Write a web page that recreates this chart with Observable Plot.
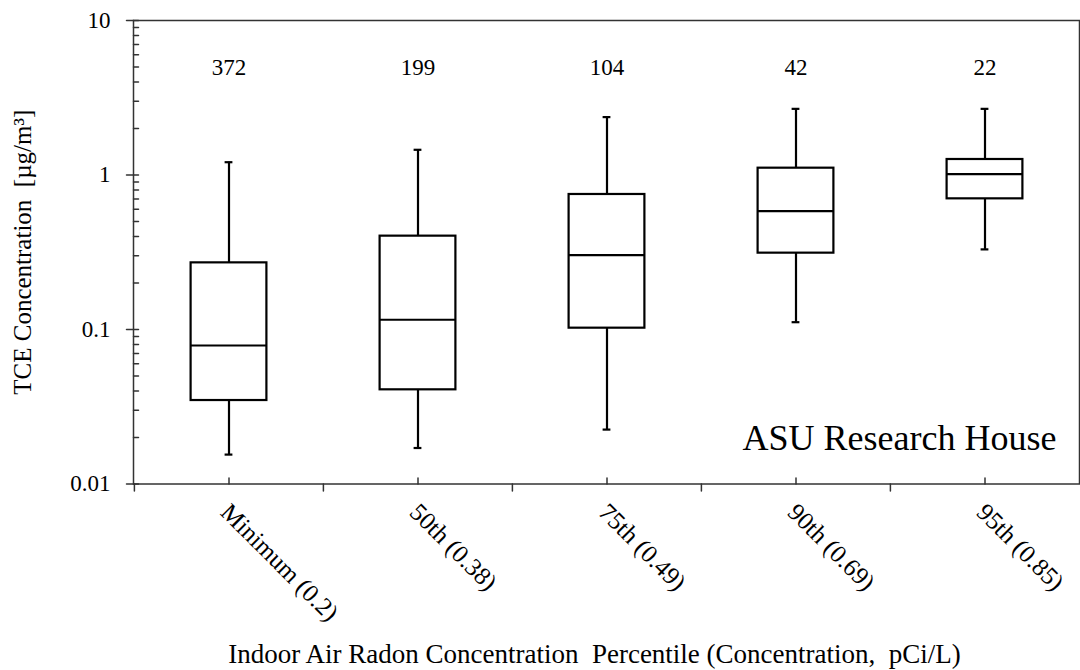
<!DOCTYPE html>
<html>
<head>
<meta charset="utf-8">
<script src="https://cdn.jsdelivr.net/npm/d3@7"></script>
<script src="https://cdn.jsdelivr.net/npm/@observablehq/plot@0.6"></script>
<style>
  html, body { margin: 0; padding: 0; background: #fff; }
  #chart svg { display: block; }
</style>
</head>
<body>
<div id="chart"></div>
<script>
const categories = ["Minimum (0.2)", "50th (0.38)", "75th (0.49)", "90th (0.69)", "95th (0.85)"];
const counts = [372, 199, 104, 42, 22];
const whiskerLow = [0.0155, 0.0171, 0.0225, 0.1115, 0.33];
const q1 = [0.0347, 0.0407, 0.102, 0.312, 0.701];
const median = [0.0788, 0.1156, 0.303, 0.583, 1.012];
const q3 = [0.270, 0.402, 0.748, 1.107, 1.26];
const whiskerHigh = [1.21, 1.456, 2.37, 2.68, 2.68];
const majorTicks = [0.01, 0.1, 1, 10];
const majorTickLabels = ["0.01", "0.1", "1", "10"];
const minorTicks = [0.02, 0.03, 0.04, 0.05, 0.06, 0.07, 0.08, 0.09,
                    0.2, 0.3, 0.4, 0.5, 0.6, 0.7, 0.8, 0.9,
                    2, 3, 4, 5, 6, 7, 8, 9];
const yLabel = "TCE Concentration  [µg/m³]";
const xLabel = "Indoor Air Radon Concentration  Percentile (Concentration,  pCi/L)";
const noteText = "ASU Research House";

const data = categories.map((c, i) => ({
  cat: c, n: counts[i], lo: whiskerLow[i], q1: q1[i], med: median[i], q3: q3[i], hi: whiskerHigh[i]
}));

const left = 133, right = 1079;
const bw = (right - left) / categories.length;
const boxW = 76, capW = 8;
const boxInset = (bw - boxW) / 2, capInset = (bw - capW) / 2;
const font = "'Liberation Serif', 'Times New Roman', serif";
const line = {draw(ctx, l) { ctx.moveTo(0, 0); ctx.lineTo(0, -l); }};

const chart = Plot.plot({
  width: 1080,
  height: 670,
  marginTop: 20,
  marginBottom: 186.5,
  marginLeft: left,
  marginRight: 1080 - right,
  style: {fontFamily: font, background: "#fff"},
  x: {domain: categories, range: [left, right], padding: 0, axis: null},
  y: {type: "log", domain: [0.01, 10], axis: null},
  marks: [
    // whiskers
    Plot.ruleX(data, {x: "cat", y1: "q3", y2: "hi", stroke: "#000", strokeWidth: 2.2}),
    Plot.ruleX(data, {x: "cat", y1: "lo", y2: "q1", stroke: "#000", strokeWidth: 2.2}),
    Plot.tickY(data, {x: "cat", y: "hi", insetLeft: capInset, insetRight: capInset, stroke: "#000", strokeWidth: 2.2}),
    Plot.tickY(data, {x: "cat", y: "lo", insetLeft: capInset, insetRight: capInset, stroke: "#000", strokeWidth: 2.2}),
    // boxes
    Plot.barY(data, {x: "cat", y1: "q1", y2: "q3", insetLeft: boxInset, insetRight: boxInset, fill: "#fff", stroke: "#000", strokeWidth: 2.2}),
    Plot.tickY(data, {x: "cat", y: "med", insetLeft: boxInset, insetRight: boxInset, stroke: "#000", strokeWidth: 2.2}),
    // frame
    Plot.frame({stroke: "#333", strokeWidth: 1.5}),
    // y ticks
    Plot.vector(majorTicks, {y: d => d, frameAnchor: "left", length: 7, rotate: -90, shape: line, anchor: "start", stroke: "#333", strokeWidth: 1.5}),
    Plot.vector(majorTicks.concat(minorTicks), {y: d => d, frameAnchor: "left", length: 5, rotate: 90, shape: line, anchor: "start", stroke: "#333", strokeWidth: 1.5}),
    Plot.text(majorTicks, {y: d => d, frameAnchor: "left", dx: -23, textAnchor: "end", lineAnchor: "middle", text: (d, i) => majorTickLabels[i], fontSize: 23, fill: "#000"}),
    // x ticks
    Plot.vector(categories, {x: d => d, frameAnchor: "bottom", length: 6, rotate: 0, shape: line, anchor: "start", stroke: "#333", strokeWidth: 1.5}),
    Plot.vector(categories, {x: d => d, dx: -bw / 2, frameAnchor: "bottom", length: 7, rotate: 180, shape: line, anchor: "start", stroke: "#333", strokeWidth: 1.5}),
    Plot.text(categories, {x: d => d, frameAnchor: "bottom", dx: -4, dy: 24, rotate: 45, textAnchor: "start", lineAnchor: "middle", fontSize: 25, fill: "#000"}),
    // counts
    Plot.text(data, {x: "cat", frameAnchor: "top", dy: 47, lineAnchor: "middle", text: d => String(d.n), fontSize: 23, fill: "#000"}),
    // note
    Plot.text([noteText], {frameAnchor: "bottom-right", dx: -23, dy: -46, textAnchor: "end", lineAnchor: "middle", fontSize: 36, fill: "#000"}),
    // axis titles
    Plot.text([yLabel], {frameAnchor: "left", dx: -111, rotate: -90, textAnchor: "middle", lineAnchor: "middle", fontSize: 25, fill: "#000"}),
    Plot.text([xLabel], {frameAnchor: "bottom", dx: -12, dy: 170, textAnchor: "middle", lineAnchor: "middle", fontSize: 27, fill: "#000"})
  ]
});
document.getElementById("chart").appendChild(chart);
</script>
</body>
</html>
